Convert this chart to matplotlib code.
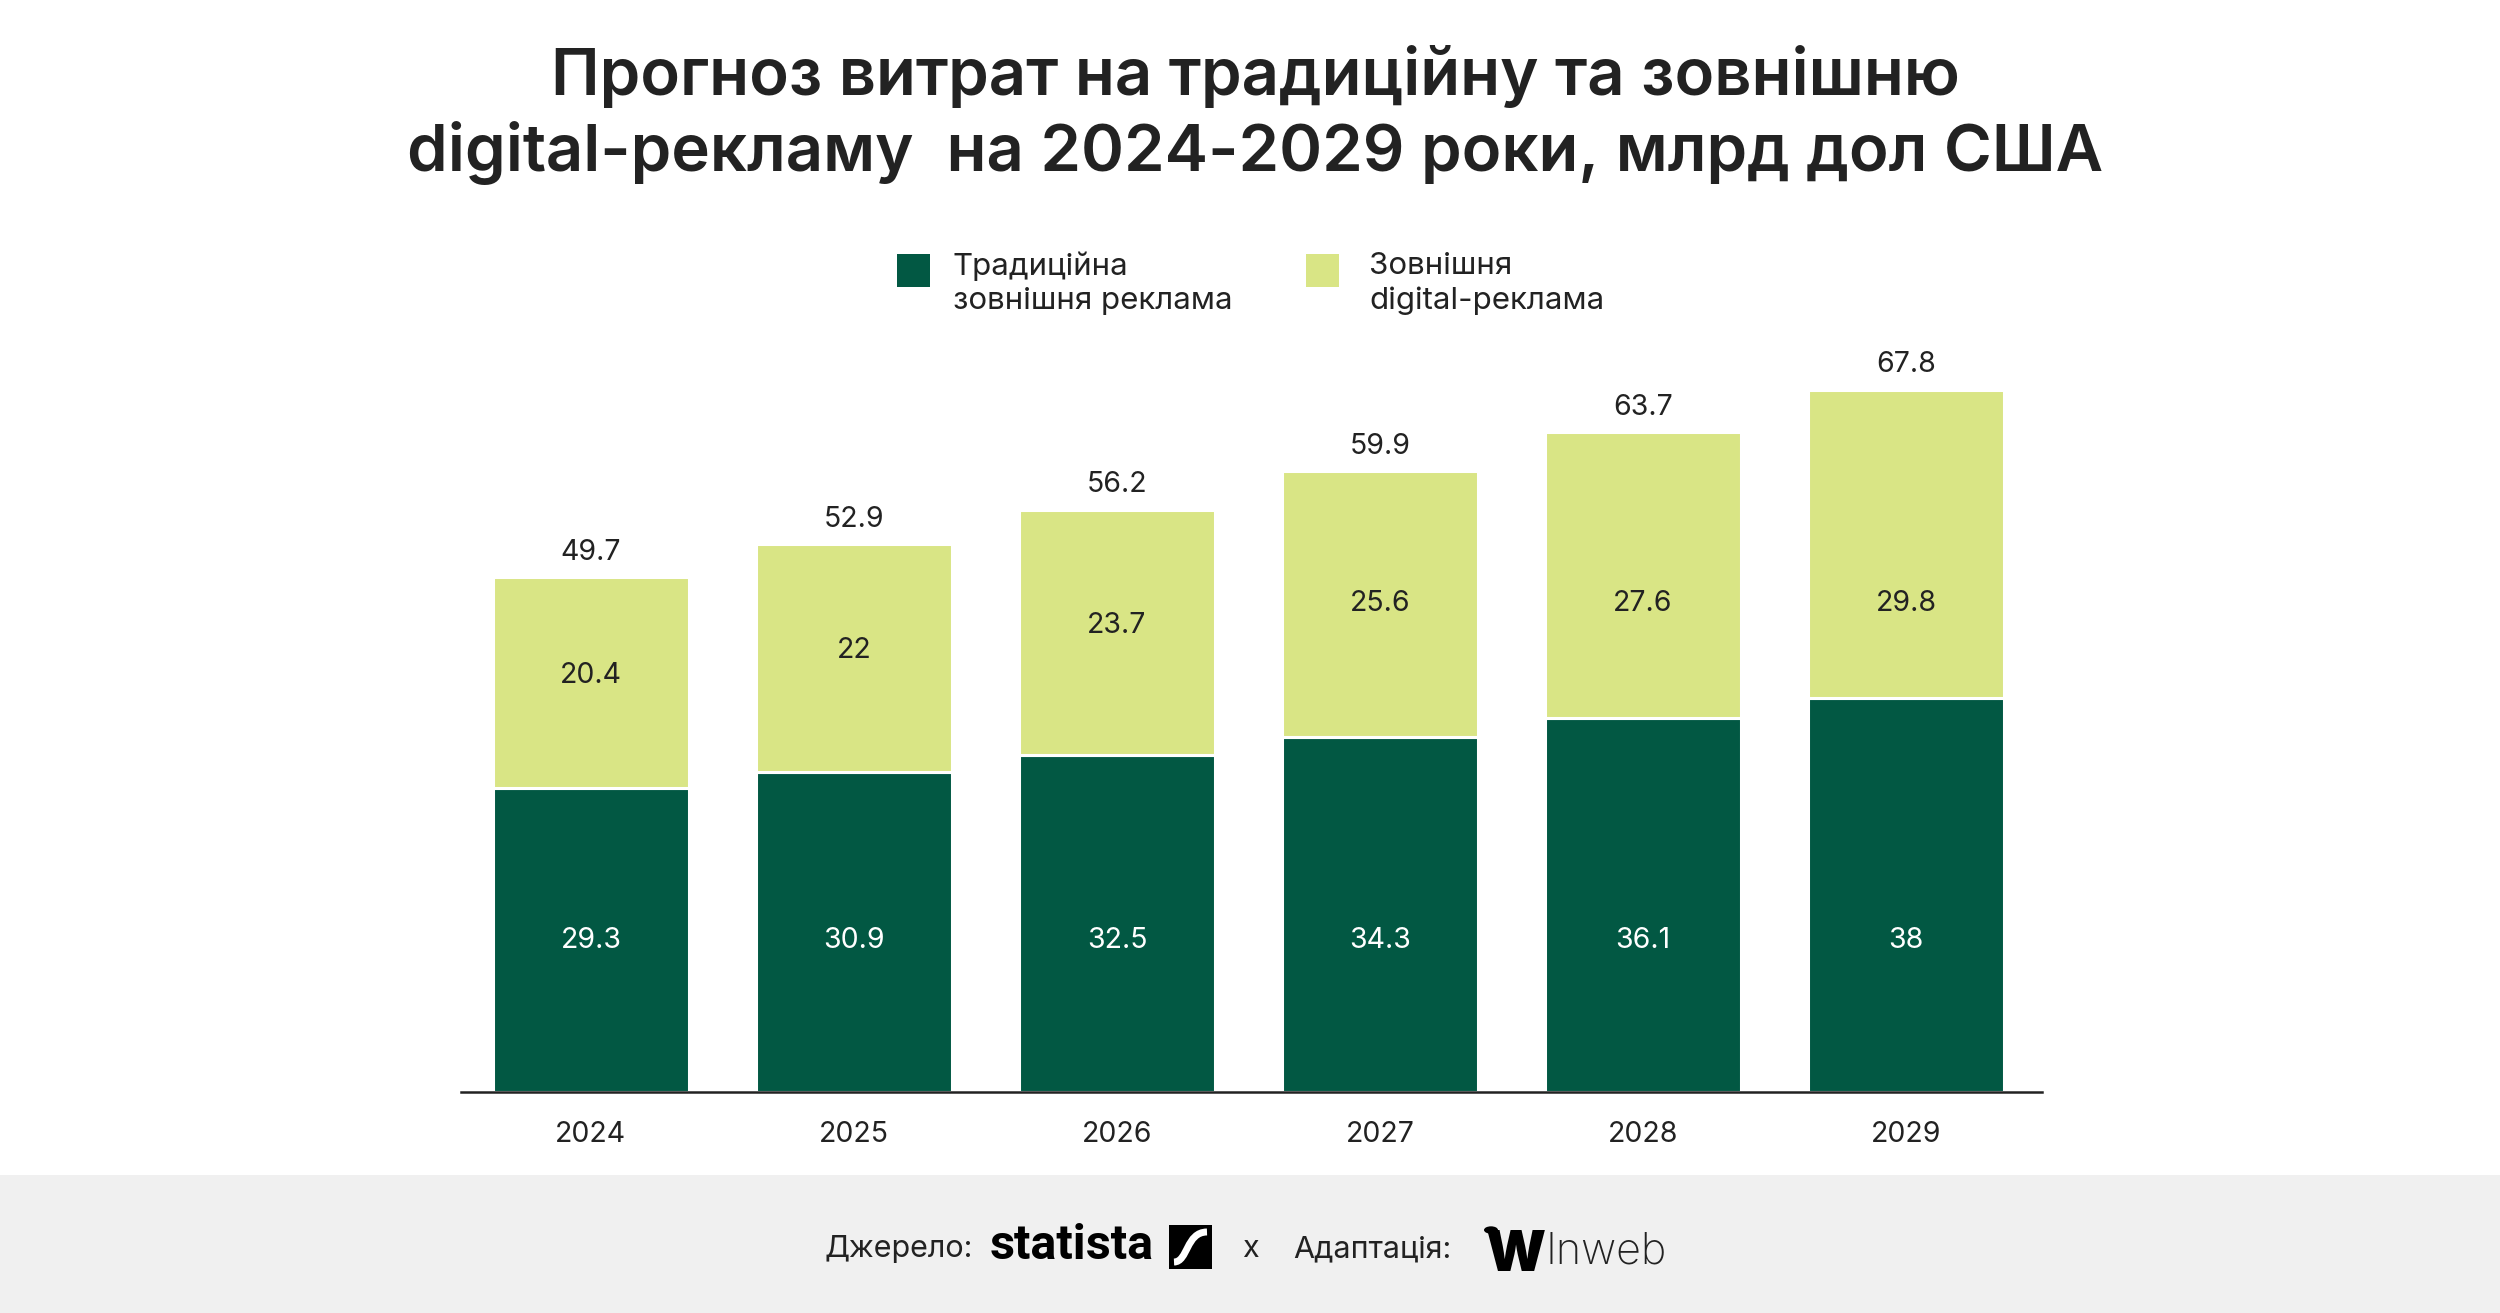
import matplotlib
matplotlib.use("Agg")
import matplotlib.pyplot as plt
from matplotlib.patches import Rectangle, Circle, PathPatch
from matplotlib.path import Path

years = ["2024", "2025", "2026", "2027", "2028", "2029"]
traditional = [29.3, 30.9, 32.5, 34.3, 36.1, 38.0]
digital = [20.4, 22.0, 23.7, 25.6, 27.6, 29.8]
totals = [49.7, 52.9, 56.2, 59.9, 63.7, 67.8]
trad_labels = ["29.3", "30.9", "32.5", "34.3", "36.1", "38"]
dig_labels = ["20.4", "22", "23.7", "25.6", "27.6", "29.8"]
total_labels = ["49.7", "52.9", "56.2", "59.9", "63.7", "67.8"]
legend_labels = ["Традиційна\nзовнішня реклама", "Зовнішня\ndigital-реклама"]
title_lines = ["Прогноз витрат на традиційну та зовнішню",
               "digital-рекламу  на 2024-2029 роки, млрд дол США"]

DARK = "#025843"
LIGHT = "#d9e585"
TXT = "#222222"
FONT = "Inter"

W, H = 2500, 1313
fig = plt.figure(figsize=(W / 100, H / 100), dpi=100)
fig.patch.set_facecolor("white")

def fx(px):
    return px / W

def fy(py):
    return 1 - py / H

# footer band
fig.patches.append(Rectangle((0, 0), 1, fy(1175), transform=fig.transFigure,
                             facecolor="#f0f0f0", edgecolor="none", zorder=0))

# axes
base_px = 1092
ppu = 10.36
ymax = 80
ax_h = ymax * ppu
ax = fig.add_axes([fx(461), (H - base_px) / H, fx(2042 - 461), ax_h / H])
ax.set_facecolor("none")
x = list(range(len(years)))
bw = 0.745
ax.bar(x, traditional, width=bw, color=DARK, edgecolor="white", linewidth=2.2, zorder=2)
ax.bar(x, digital, bottom=traditional, width=bw, color=LIGHT, edgecolor="white",
       linewidth=2.2, zorder=2)
ax.set_xlim(-0.494, 5.517)
ax.set_ylim(0, ymax)
for s in ["top", "right", "left"]:
    ax.spines[s].set_visible(False)
ax.spines["bottom"].set_color("#222222")
ax.spines["bottom"].set_linewidth(1.8)
ax.spines["bottom"].set_zorder(3)
ax.set_yticks([])
ax.set_xticks(x)
ax.set_xticklabels(years, fontsize=20.5, color=TXT, family=FONT)
ax.tick_params(axis="x", length=0, pad=21)

# label anchors (the source places inner labels at capped heights)
TRAD_LABEL_Y = 14.6
DIG_LABEL_CAP = 47.2
for i in x:
    ax.text(i, min(traditional[i] / 2, TRAD_LABEL_Y), trad_labels[i], ha="center",
            va="center", color="white", fontsize=20.5, family=FONT, zorder=4)
    ax.text(i, min(traditional[i] + digital[i] / 2 + 0.7, DIG_LABEL_CAP), dig_labels[i],
            ha="center", va="center", color=TXT, fontsize=20.5, family=FONT, zorder=4)
    ax.text(i, totals[i] + 2.4, total_labels[i], ha="center", va="center",
            color=TXT, fontsize=20.5, family=FONT, zorder=4)

# title
fig.text(0.502, fy(77), title_lines[0], ha="center", va="center", fontsize=47,
         fontweight="semibold", color=TXT, family=FONT)
fig.text(0.502, fy(153), title_lines[1], ha="center", va="center", fontsize=47,
         fontweight="semibold", color=TXT, family=FONT)

# legend
for sq_x, txt_x, col, lab in [(897, 953, DARK, legend_labels[0]),
                              (1306, 1369, LIGHT, legend_labels[1])]:
    fig.patches.append(Rectangle((fx(sq_x), fy(287)), fx(33), 33 / H,
                                 transform=fig.transFigure, facecolor=col,
                                 edgecolor="none"))
    l1, l2 = lab.split("\n")
    fig.text(fx(txt_x), fy(266), l1, ha="left", va="center", fontsize=22.5,
             color=TXT, family=FONT)
    fig.text(fx(txt_x), fy(301), l2, ha="left", va="center", fontsize=22.5,
             color=TXT, family=FONT)

# footer
fy_t = fy(1249)
fig.text(fx(824), fy_t, "Джерело:", ha="left", va="center", fontsize=22,
         color=TXT, family=FONT)
fig.text(fx(990), fy(1246), "statista", ha="left", va="center", fontsize=35,
         fontweight="bold", color="black", family="Roboto")
fig.patches.append(Rectangle((fx(1169), fy(1269)), fx(43), 44 / H,
                             transform=fig.transFigure, facecolor="black",
                             edgecolor="none"))
s_path = Path([(fx(1174), fy(1262)), (fx(1188), fy(1262)), (fx(1186), fy(1232)),
               (fx(1207), fy(1232))],
              [Path.MOVETO, Path.CURVE4, Path.CURVE4, Path.CURVE4])
fig.patches.append(PathPatch(s_path, transform=fig.transFigure, facecolor="none",
                             edgecolor="white", linewidth=5))
fig.text(fx(1250), fy_t, "x", ha="center", va="center", fontsize=22,
         color=TXT, family=FONT)
fig.text(fx(1293), fy_t, "Адаптація:", ha="left", va="center", fontsize=22,
         color=TXT, family=FONT)
fig.text(fx(1486), fy(1256), "W", ha="left", va="center", fontsize=40,
         fontweight="black", color="black", family=FONT)
fig.patches.append(Circle((fx(1491), fy(1230)), 7 / W, transform=fig.transFigure,
                          facecolor="black", edgecolor="none"))
fig.text(fx(1546), fy(1252), "Inweb", ha="left", va="center", fontsize=31,
         fontweight="light", color=TXT, family=FONT)

fig.savefig("out.png", dpi=100, facecolor="white")
